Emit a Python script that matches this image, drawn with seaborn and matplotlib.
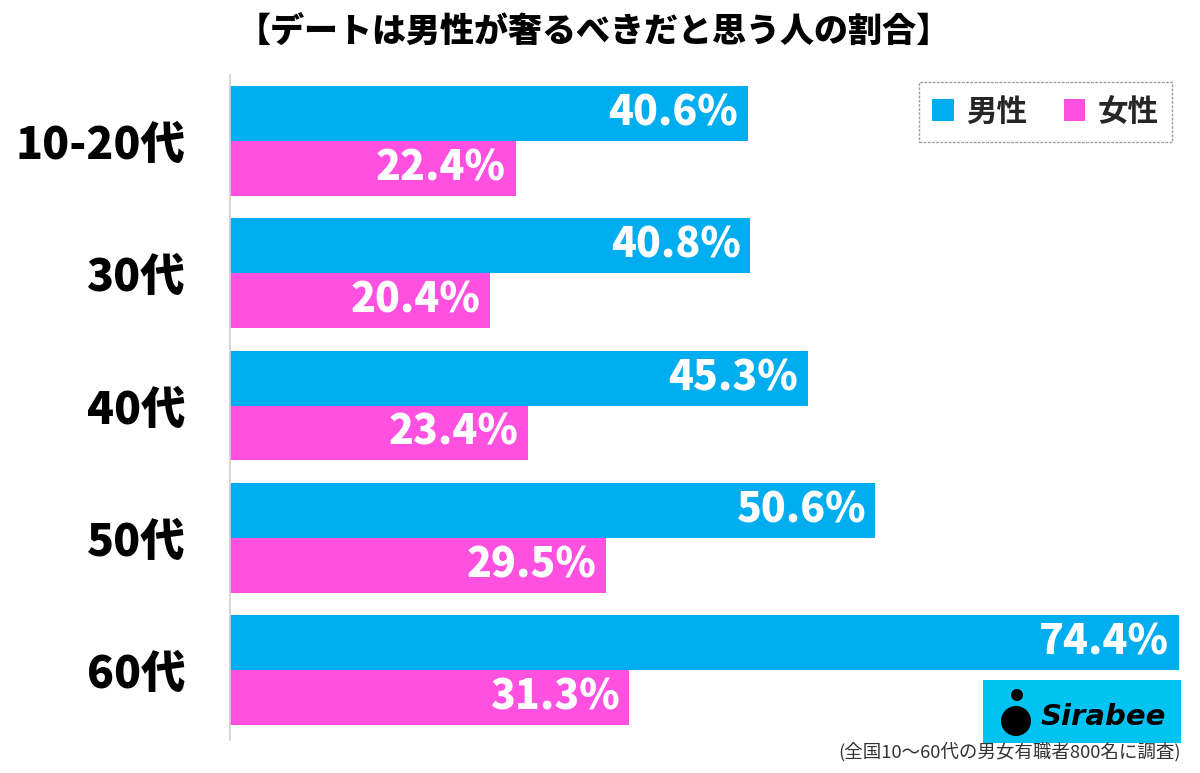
import matplotlib
matplotlib.use("Agg")
import matplotlib.pyplot as plt
import seaborn as sns
import pandas as pd
from matplotlib.patches import Patch, Rectangle, Ellipse

sns.set_theme(style="white")
plt.rcParams['font.family'] = ['Noto Sans CJK JP', 'DejaVu Sans']

categories = ["10-20代", "30代", "40代", "50代", "60代"]
series_names = ["男性", "女性"]
male = [40.6, 40.8, 45.3, 50.6, 74.4]
female = [22.4, 20.4, 23.4, 29.5, 31.3]
title = "【デートは男性が奢るべきだと思う人の割合】"
footnote = "(全国10〜60代の男女有職者800名に調査)"

colors = {"男性": "#00AEEF", "女性": "#FF50E0"}

df = pd.DataFrame({
    "age": categories * 2,
    "sex": [series_names[0]] * len(categories) + [series_names[1]] * len(categories),
    "value": male + female,
})

W, H = 1200, 773
fig = plt.figure(figsize=(12, 7.73), dpi=100)
ax = fig.add_axes([0.1917, 0.0427, 0.7916, 0.8603])

sns.barplot(data=df, x="value", y="age", hue="sex", orient="h",
            palette=colors, width=0.83, saturation=1, legend=False,
            linewidth=0, ax=ax, order=categories, hue_order=series_names)

ax.set_xlim(0, 74.5)
ax.set_ylim(4.53, -0.5)
ax.set_xlabel("")
ax.set_ylabel("")
ax.set_xticks([])
for s in ["top", "right", "bottom"]:
    ax.spines[s].set_visible(False)
ax.spines["left"].set_color("#d0d0d0")
ax.spines["left"].set_linewidth(1.2)
ax.tick_params(axis="y", length=0, pad=32)
for lbl in ax.get_yticklabels():
    lbl.set_fontsize(32)
    lbl.set_fontweight("black")
    lbl.set_color("black")

for cont in ax.containers:
    for bar in cont:
        w = bar.get_width()
        ax.annotate(f"{w:.1f}%", xy=(w, bar.get_y() + bar.get_height() / 2),
                    xytext=(-7, 0), textcoords="offset points",
                    ha="right", va="center", color="white",
                    fontsize=29.5, fontweight="black")

handles = [Patch(facecolor=colors[n], edgecolor="none", label=n) for n in series_names]
leg = fig.legend(handles=handles, loc="upper right", ncol=2,
                 bbox_to_anchor=(1172 / W, 1 - 82 / H), frameon=True,
                 fontsize=22, handlelength=0.7, handleheight=0.7,
                 handletextpad=0.4, columnspacing=1.2,
                 borderpad=0.45, borderaxespad=0, fancybox=False)
leg.get_frame().set_edgecolor("#888888")
leg.get_frame().set_linestyle((0, (2, 1)))
leg.get_frame().set_linewidth(1.0)
for t in leg.get_texts():
    t.set_fontweight("bold")

fig.text(0.495, 0.958, title, ha="center", va="center",
         fontsize=24.5, fontweight="black", color="black")

fig.text(0.984, 0.027, footnote, ha="right", va="center",
         fontsize=13.3, color="#333333")

# Sirabee logo
lx0, ly0, lw, lh = 983 / W, 1 - 743 / H, 198 / W, 63 / H
fig.patches.append(Rectangle((lx0, ly0), lw, lh, transform=fig.transFigure,
                             facecolor="#00C3F2", edgecolor="none"))
r = 15 / W
fig.patches.append(Ellipse((lx0 + 33 / W, ly0 + 22 / H), 2 * r, 2 * r * W / H,
                           transform=fig.transFigure, facecolor="black",
                           edgecolor="none"))
r2 = 6 / W
fig.patches.append(Ellipse((lx0 + 34 / W, ly0 + 48 / H), 2 * r2, 2 * r2 * W / H,
                           transform=fig.transFigure, facecolor="black",
                           edgecolor="none"))
fig.text(lx0 + 58 / W, ly0 + lh * 0.42, "Sirabee", ha="left", va="center",
         fontsize=21, fontweight="bold", fontstyle="italic",
         family=["DejaVu Sans"], color="black")

fig.savefig("out.png", dpi=100)
